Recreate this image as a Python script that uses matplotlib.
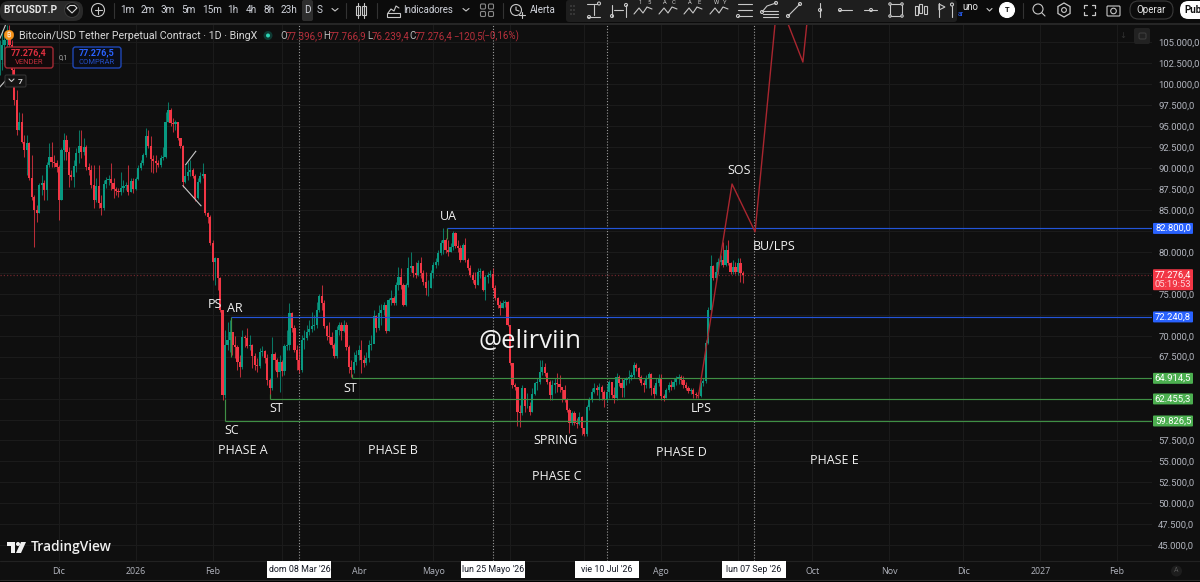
import matplotlib
matplotlib.use("Agg")
import matplotlib.pyplot as plt
from matplotlib.patches import Rectangle, FancyBboxPatch, Circle, Polygon, RegularPolygon

# ---------- data (prices in thousands, days counted from 1 Dec 2025) ----------
first_day = -24
closes = [
102.9,104.7,105.3,105.9,104.7,101.7,98.1,94.5,95.5,93.1,
92.2,93.0,88.8,86.5,85.0,84.6,88.0,88.2,87.4,90.4,
91.3,90.7,90.6,90.1,86.2,92.2,93.4,91.9,89.2,88.9,
90.2,91.8,92.6,91.9,92.5,90.1,89.8,88.0,86.2,87.9,
85.8,85.2,88.1,88.6,88.7,88.2,87.5,87.3,87.1,87.6,
87.9,88.0,87.1,88.5,87.5,88.7,90.0,90.6,91.6,93.8,
92.6,91.1,90.8,90.6,90.4,91.2,91.3,95.5,96.9,95.4,
95.3,95.5,93.6,92.6,88.3,89.1,89.5,89.8,89.1,86.4,
88.3,89.1,89.3,84.6,84.2,81.1,78.8,79.3,76.9,73.1,
62.9,68.9,69.5,70.4,68.9,68.6,66.9,66.3,69.8,69.7,
68.8,68.9,67.6,66.5,66.4,68.1,68.2,67.3,64.7,63.8,
67.8,67.1,65.7,66.9,65.8,68.8,68.9,72.7,70.9,68.3,
67.1,65.9,69.5,69.7,70.4,70.8,71.1,71.3,73.1,74.7,
73.9,71.1,70.0,69.8,68.9,67.6,70.7,71.3,70.6,71.3,
68.7,66.3,65.9,66.9,67.7,68.3,67.1,66.7,67.3,68.9,
69.0,72.3,70.9,72.7,73.1,73.7,70.6,74.3,74.5,73.9,
76.1,77.0,76.1,73.7,76.1,78.1,78.3,77.5,77.2,78.7,
77.5,76.4,75.7,75.7,77.5,78.4,78.8,79.9,81.1,81.4,
80.2,80.0,80.6,82.2,80.7,80.5,79.0,80.8,79.0,78.1,
77.2,76.6,76.1,77.6,77.7,75.4,77.0,77.2,77.4,75.7,
74.5,73.7,73.3,73.9,74.0,71.3,66.7,64.1,63.9,60.9,
60.8,63.8,61.6,61.6,60.9,63.0,64.4,64.5,65.7,66.3,
65.5,64.5,62.9,64.1,64.4,64.2,63.9,63.5,62.3,61.1,
59.6,60.8,59.6,59.5,60.3,59.0,58.3,61.5,62.3,63.3,
63.8,63.5,63.9,63.3,62.3,63.3,64.5,62.9,62.6,65.1,
64.4,63.8,64.7,64.8,65.1,65.3,66.5,66.1,65.1,64.4,
64.1,65.0,65.4,63.8,63.0,64.4,65.0,62.8,62.6,63.5,
64.1,63.9,64.5,64.8,65.1,64.7,64.1,63.8,63.4,63.5,
63.0,62.9,62.8,64.4,64.6,69.1,73.1,78.3,76.9,77.6,
78.8,79.0,78.4,80.2,78.7,77.6,78.2,77.6,78.7,77.5,77.276]
highs = [
105.3,106.5,105.9,107.1,107.1,105.3,102.9,99.3,96.7,96.6,
93.9,93.9,93.1,91.6,86.8,85.6,88.2,89.2,88.6,90.7,
93.0,93.1,91.6,91.0,90.4,92.4,94.2,93.9,92.5,89.8,
91.0,92.4,94.5,94.5,93.6,92.8,90.6,90.4,90.4,88.8,
90.4,86.8,88.6,88.9,89.2,90.6,88.8,87.7,87.6,89.5,
88.6,88.3,90.4,88.8,88.8,88.9,90.4,91.0,91.8,94.8,
94.5,93.8,91.6,91.6,91.0,91.6,92.5,96.7,97.9,97.2,
96.0,95.7,95.5,93.6,92.8,90.4,90.7,91.0,90.0,89.3,
88.8,89.5,90.6,89.3,84.8,84.4,81.4,79.4,79.0,77.0,
73.1,70.7,71.6,71.9,70.3,70.0,68.9,67.7,70.7,70.1,
70.9,70.1,69.0,67.9,67.3,68.5,68.8,68.3,67.8,65.0,
69.9,68.1,67.3,67.7,67.1,69.0,70.7,73.9,72.8,71.3,
68.9,68.5,70.1,70.7,71.3,71.9,72.8,72.5,74.0,75.0,
76.0,74.3,71.3,71.6,70.4,69.1,71.2,71.6,71.6,71.9,
71.6,68.9,67.1,68.1,68.3,68.9,69.5,67.7,68.1,69.5,
70.1,73.1,72.5,73.7,73.8,74.0,73.7,74.5,75.5,74.7,
76.4,78.2,78.1,76.3,76.3,79.4,80.0,78.3,78.8,79.0,
79.4,77.8,77.6,76.6,77.8,78.8,79.3,80.2,81.4,82.8,
81.6,81.4,81.1,82.5,82.4,81.4,80.8,81.1,81.7,79.3,
78.4,77.6,77.6,78.1,78.1,77.8,77.2,77.6,77.8,78.1,
76.0,74.6,74.1,74.3,74.3,74.1,71.3,66.7,64.4,63.9,
61.7,64.1,63.5,63.2,62.1,63.8,64.5,65.0,67.1,67.1,
66.7,65.7,64.7,64.7,65.0,65.5,65.3,63.8,64.1,62.6,
61.4,61.0,61.0,60.2,60.9,60.4,59.0,61.7,62.7,63.8,
64.4,64.1,64.4,64.1,63.5,64.1,64.7,64.4,63.9,65.5,
65.3,64.9,64.9,65.1,65.9,65.7,66.9,66.7,66.3,65.3,
64.7,65.3,65.7,65.5,64.1,64.9,65.4,65.4,63.0,63.8,
64.5,64.7,64.9,65.2,65.4,65.3,65.2,64.5,64.0,63.8,
63.8,63.3,63.3,64.5,65.0,69.5,73.4,79.6,78.4,78.8,
79.3,79.6,81.2,80.8,81.4,78.8,79.0,78.8,79.3,79.3,77.767]
lows = [
101.1,101.7,102.3,104.1,102.9,101.1,97.5,93.9,94.5,93.0,
91.3,89.2,88.6,86.2,80.6,83.6,84.6,86.8,86.2,86.2,
90.1,90.1,90.1,89.5,83.8,86.2,91.0,91.0,87.7,88.6,
87.7,89.5,90.6,91.2,91.6,89.8,89.2,87.6,85.2,85.9,
85.2,84.4,85.0,87.6,88.0,87.4,86.4,86.8,86.5,86.8,
87.1,87.4,86.8,87.1,87.0,87.4,88.6,89.8,90.4,91.3,
92.4,89.5,89.4,89.5,90.1,90.1,91.0,91.2,95.5,95.0,
94.3,94.5,93.3,92.4,87.7,88.2,88.6,89.1,88.8,86.1,
86.3,88.2,88.8,84.4,83.4,80.8,76.6,76.0,75.5,72.8,
62.3,62.6,68.3,68.1,67.7,67.3,65.9,65.1,66.0,68.6,
68.5,68.3,66.1,65.9,65.7,66.1,67.6,66.7,64.1,62.6,
63.5,65.9,65.1,63.3,65.2,65.3,68.3,68.3,70.4,68.1,
65.9,65.5,65.7,68.4,69.5,70.1,70.4,70.7,70.9,72.8,
73.1,70.9,69.5,69.1,68.5,67.3,67.3,70.1,69.5,70.4,
68.3,65.5,65.1,65.6,66.5,67.1,65.6,66.3,66.5,66.9,
68.3,69.5,70.4,70.7,71.3,72.5,70.3,70.6,73.7,73.7,
73.7,75.5,75.6,73.5,73.5,75.8,77.6,77.0,76.9,77.1,
76.9,76.0,74.8,74.7,75.7,76.9,78.1,78.4,79.6,79.7,
79.9,79.5,80.0,80.2,80.5,80.0,78.8,79.0,78.8,77.8,
77.0,76.3,75.7,76.0,76.9,75.3,74.3,76.3,77.0,75.5,
74.3,73.3,72.5,73.3,73.4,71.2,66.5,63.8,63.5,59.2,
59.1,60.5,60.9,61.4,60.5,60.9,62.9,63.5,64.2,65.3,
65.2,64.2,62.3,62.3,63.2,63.3,63.3,62.1,62.1,60.9,
58.4,59.3,59.3,59.0,59.3,58.2,58.0,58.0,61.1,62.1,
63.2,62.9,62.3,62.3,61.5,62.1,62.6,62.6,62.0,62.3,
64.0,62.7,62.7,64.1,64.4,64.7,64.9,65.8,64.7,64.1,
63.3,63.8,63.8,62.9,62.6,62.9,64.0,62.3,62.2,62.6,
63.3,63.5,63.6,64.1,64.2,64.2,63.8,63.5,63.2,63.0,
62.6,62.6,62.6,62.7,64.0,64.4,69.0,72.9,76.6,76.6,
77.4,78.4,78.2,78.3,78.4,77.4,77.4,77.4,77.2,76.4,76.239]

level_prices = [82800.0, 72240.8, 64914.5, 62455.3, 59826.5]
level_starts = [156.7, 69.3, 118.2, 85.2, 67.0]
level_labels = ["82.800,0", "72.240,8", "64.914,5", "62.455,3", "59.826,5"]
level_kinds = ["blue", "blue", "green", "green", "green"]
last_price = 77276.4

path_days = [258, 271.6, 280.9, 290, 300.2, 304]
path_prices = [62700, 88100, 82400, 110400, 102650, 113500]

month_days = [0, 31, 62, 90, 121, 151, 182, 212, 243, 274, 304, 335, 365, 396, 427]
month_labels = ["Dic", "2026", "Feb", "", "Abr", "Mayo", "", "", "Ago", "", "Oct", "Nov", "Dic", "2027", "Feb"]
cursor_days = [97, 175, 221, 280.5]
cursor_labels = ["dom 08 Mar '26", "lun 25 Mayo '26", "vie 10 Jul '26", "lun 07 Sep '26"]
price_ticks = list(range(45000, 107500, 2500))
hidden_ticks = [60000, 62500, 65000, 72500, 77500, 82500]

# ---------- colours ----------
BG = "#0f0f0f"; GRID = "#1b1b1b"; UP = "#089981"; DOWN = "#f23645"
BLUE = "#2962ff"; GREEN = "#4caf50"; LINEGREEN = "#3f8f45"; AXT = "#b2b5be"

plt.rcParams["font.family"] = ["Open Sans", "DejaVu Sans"]
fig = plt.figure(figsize=(12, 5.82), dpi=100, facecolor=BG)
ax = fig.add_axes([0, (582 - 561) / 582, 1152 / 1200, (561 - 24) / 582], facecolor=BG)
ax.set_xlim(-23.81, 441.08)
ax.set_ylim(43120, 107190)
for s in ax.spines.values():
    s.set_visible(False)
ax.set_axisbelow(True)
ax.grid(True, color=GRID, lw=0.8)
ax.yaxis.tick_right()
ax.set_yticks(price_ticks)
ax.set_yticklabels(["" if p in hidden_ticks else f"{p:,.1f}".replace(",", "X").replace(".", ",").replace("X", ".") for p in price_ticks])
ax.tick_params(axis="y", length=0, pad=4.5, labelsize=6.8, labelcolor=AXT)
for t in ax.get_yticklabels():
    t.set_fontfamily("Roboto")
ax.set_xticks(month_days)
ax.set_xticklabels(month_labels)
ax.tick_params(axis="x", length=0, pad=4.5, labelsize=6.4, labelcolor=AXT)

# cursors
for d in cursor_days:
    ax.axvline(d, color="#9a9a9a", lw=0.8, ls=(0, (1, 1.6)), zorder=1.5)

# candles
days = list(range(first_day, first_day + len(closes)))
opens = [closes[0]] + closes[:-1]
for i, d in enumerate(days):
    o, c = opens[i] * 1000, closes[i] * 1000
    col = UP if c >= o else DOWN
    ax.vlines(d, lows[i] * 1000, highs[i] * 1000, color=col, lw=0.75, alpha=0.75, zorder=3)
    ax.bar(d, abs(c - o) or 40, bottom=min(o, c), width=0.88, color=col, lw=0, zorder=3.2)

# levels
ax.axhline(last_price, color="#6e262c", lw=0.9, ls=(0, (1, 1.6)), zorder=2)
for p, s, k in zip(level_prices, level_starts, level_kinds):
    ax.hlines(p, s, 441.08, color="#2354d8" if k == "blue" else LINEGREEN, lw=0.85, zorder=3.5)
for d, p0, p1 in [(69.3, 72240.8, 67400), (67.0, 59826.5, 62400), (85.2, 62455.3, 63000), (118.2, 64914.5, 65400), (156.7, 82800, 81500)]:
    ax.vlines(d, p0, p1, color=LINEGREEN, lw=0.85, zorder=3.5)

# projected path
ax.plot(path_days, path_prices, color="#a9262f", lw=1.0, zorder=4)

# small drawn lines
for xs, ys in [([51.1, 55.2], [90400, 92000]), ([50, 57.3], [87900, 85500]),
               ([-23.8, -21.4], [99700, 100500]), ([-23.8, -21.4], [105500, 107200])]:
    ax.plot(xs, ys, color="#c9c9c9", lw=0.8, zorder=4)

# ---------- overlay in pixel space for the interface ----------
ui = fig.add_axes([0, 0, 1, 1], facecolor="none")
ui.set_xlim(0, 1200); ui.set_ylim(582, 0); ui.axis("off")

def T(x, y, s, size=7, color="#d1d4dc", ha="center", weight="normal", family=None, z=8):
    return ui.text(x, y, s, fontsize=size, color=color, ha=ha, va="center", weight=weight, family=family, zorder=z)

def L(xs, ys, c="#c8c8c8", lw=0.8, z=8):
    ui.plot(xs, ys, color=c, lw=lw, zorder=z, solid_capstyle="round")

def R(x, y, w, h, fc="none", ec="none", lw=0.8, z=7, r=0):
    if r:
        ui.add_patch(FancyBboxPatch((x + r, y + r), w - 2 * r, h - 2 * r, boxstyle=f"round,pad={r}", fc=fc, ec=ec, lw=lw, zorder=z))
    else:
        ui.add_patch(Rectangle((x, y), w, h, fc=fc, ec=ec, lw=lw, zorder=z))

def C(x, y, r, fc="none", ec="#c8c8c8", lw=0.8, z=8):
    ui.add_patch(Circle((x, y), r, fc=fc, ec=ec, lw=lw, zorder=z))

def price_y(p):
    return 582 - ax.transData.transform((0, p))[1]

# price-axis tags
for p, lab, k in zip(level_prices, level_labels, level_kinds):
    py = price_y(p)
    R(1153, py - 5.5, 40, 11, fc=BLUE if k == "blue" else GREEN, z=6, r=1)
    T(1173, py, lab, 6.8, "white", family="Roboto", z=7)
py = price_y(last_price)
R(1153, py - 5.5, 40, 21, fc=DOWN, z=6, r=1)
T(1173, py, "77.276,4", 6.8, "white", family="Roboto", z=7)
T(1173, py + 9.5, "05:19:53", 6.8, "#ffd5d9", family="Roboto", z=7)

# top bar
R(0, 0, 1200, 23, fc="#0b0b0b", z=6)
R(0, 22.5, 1200, 2, fc="#262626", z=6)
R(0, 1, 83, 20, fc="#2a2a2a", r=9)
T(30, 10, "BTCUSDT.P", 7.2, "#e6e6e6", weight="bold", family="Roboto")
C(72, 10, 7.5, fc="#111111", ec="#3a3a3a")
ui.add_patch(Polygon([[67, 8], [70, 5.5], [74.5, 5.5], [77, 8], [72, 13]], fc="none", ec="#d8d8d8", lw=0.8, zorder=9))
C(98, 10, 6.5)
L([94.5, 101.5], [10, 10]); L([98, 98], [6.5, 13.5])
L([114, 114], [3, 18], "#333333")
for x, s in zip([127, 148, 168, 188.5, 212, 233, 251, 269, 289, 307, 320],
                ["1m", "2m", "3m", "5m", "15m", "1h", "4h", "8h", "23h", "D", "S"]):
    if s == "D":
        R(302, 0, 11, 21, fc="#2e2e2e", r=2)
    T(x, 10, s, 7.2, "#d1d4dc", family="Roboto", z=9)
L([332, 335, 338], [8.5, 11, 8.5])
L([346, 346], [3, 18], "#333333")
for x in (358, 364):
    R(x - 2, 6, 4, 9, ec="#c8c8c8", z=8); L([x, x], [3, 18])
L([377, 377], [3, 18], "#333333")
L([388, 391, 394, 396, 399], [13, 9, 11, 6, 8]); R(387, 13, 13, 4, ec="#c8c8c8", z=8)
T(428.5, 10, "Indicadores", 6.9, "#d1d4dc", family="Roboto")
L([463, 466, 469], [8.5, 11, 8.5])
for x in (483, 491):
    for y in (6.5, 14):
        R(x - 2.5, y - 2.5, 5, 5, ec="#888888", z=8, r=1.2)
L([503, 503], [3, 18], "#333333")
C(516, 10, 5.5); L([516, 516, 519], [7, 10, 11])
L([519, 525], [15, 15]); L([522, 522], [12, 18])
T(543, 10, "Alerta", 7, "#d1d4dc", family="Roboto")

# drawing panel
R(566, 0, 391, 22, fc="#1e1e1e", z=6.5, r=3)
for x in (571, 574):
    for y in (6, 10, 14):
        C(x, y, 0.5, fc="#555555", ec="#555555", lw=0.3)
L([594, 594], [5, 15]); L([587, 600], [17, 17]); L([587, 597], [3.5, 3.5]); C(599, 3.5, 1.5); C(589, 17, 1.5)
L([612, 612], [5, 17]); L([614, 623], [10, 10]); L([626, 626], [5, 17]); C(612, 16, 1.5); C(626, 5, 1.5)
for x, a, b in zip([643, 668, 693, 719], "1AAW", "5CEY"):
    L([x - 9, x - 4, x, x + 4, x + 9], [14, 8, 13, 7, 9])
    T(x - 3, 3, a, 4.2, "#c8c8c8", family="Roboto"); T(x + 6, 3, b, 4.2, "#c8c8c8", family="Roboto")
for y in (4, 10, 16):
    L([738, 752], [y, y])
C(738, 16, 1.5)
L([762, 767, 776], [12, 6, 3]); C(762, 12, 1.5); C(776, 3, 1.5)
for y in (11, 14, 17):
    L([763, 778], [y, y])
L([788, 800], [16, 4]); C(788, 16, 1.5); C(800, 4, 1.5)
L([820, 820], [3, 17]); C(820, 10, 1.5)
L([839, 852], [10, 10]); C(840, 10, 1.5)
L([864, 877], [10, 10]); C(871, 10, 1.5)
R(890, 4, 12, 12, ec="#c8c8c8", z=8)
for x, y in [(890, 4), (902, 4), (890, 16), (902, 16)]:
    C(x, y, 1.2, fc="#1e1e1e")
for x, y0, y1 in [(916, 6, 15), (920, 4, 13), (925, 6, 14)]:
    R(x - 1.5, y0, 3, y1 - y0, ec="#c8c8c8", z=8)
L([939, 939], [3, 17]); ui.add_patch(Polygon([[939, 4], [945, 7], [939, 10]], fc="none", ec="#c8c8c8", lw=0.8, zorder=8))
L([952, 952], [6, 17]); C(952, 4.5, 1.5)

# right of top bar
T(970, 7, "uno", 7, "#e6e6e6", family="Roboto")
T(961, 15, "ar", 5, BLUE, family="Roboto")
L([987, 989.5, 992], [8.5, 11, 8.5])
C(1007, 10, 7.5, fc="white", ec="white")
T(1007, 10, "T", 5.5, "#111111", weight="bold", family="Roboto", z=9)
L([1023, 1023], [3, 18], "#333333")
C(1038, 9, 5); L([1042, 1045], [13, 16])
ui.add_patch(RegularPolygon((1064, 10), 6, radius=7, fc="none", ec="#c8c8c8", lw=0.9, zorder=8)); C(1064, 10, 2.4)
for (x0, y0, dx, dy) in [(1084, 5, 1, 1), (1095, 5, -1, 1), (1084, 15, 1, -1), (1095, 15, -1, -1)]:
    L([x0, x0, x0 + 3 * dx], [y0 + 3 * dy, y0, y0], lw=0.9)
R(1107, 6, 13, 10, ec="#c8c8c8", z=8, r=1); C(1113.5, 11, 2.8)
R(1130, 1, 43, 18, ec="#3a3a3a", r=8.5)
T(1151.5, 10, "Operar", 7, "#e6e6e6", family="Roboto")
R(1180, 1, 30, 18, fc="white", r=8.5)
T(1184, 10, "Pub", 7, "#111111", ha="left", weight="bold", family="Roboto", z=9)

# legend row
C(9, 35, 4.8, fc="#f7931a", ec="#f7931a", lw=0.3)
T(9, 35, "₿", 5, "white", family=["Inter", "Noto Sans", "Open Sans", "Lato", "Roboto", "Liberation Sans", "DejaVu Sans"], z=9)
T(19, 36, "Bitcoin/USD Tether Perpetual Contract · 1D · BingX", 7.65, "#d8d8d8", ha="left", family="Roboto")
C(268, 35.5, 4.5, fc="#0e3a33", ec="none"); C(268, 35.5, 2, fc="#2dd4b4", ec="none", z=9)
LRED = "#b8303c"
for x, s in [(280, "O"), (323, "H"), (367, "L"), (409, "C")]:
    T(x, 36, s, 7, "#bcbcbc", ha="left", family="Roboto")
for x, s in [(286, "77.396,9"), (329, "77.766,9"), (372, "76.239,4"), (415, "77.276,4"), (453, "−120,5"), (481, "(−0,16%)")]:
    T(x, 36, s, 7, LRED, ha="left", family="Roboto")

# order boxes
R(5, 47, 48, 21, fc="#120a0b", ec="#a42a34", lw=1, r=2.5)
T(29, 53, "77.276,4", 6.5, "#e0303f", weight="bold", family="Roboto")
T(29, 62, "VENDER", 5.5, "#c32f3b", family="Roboto")
T(63, 57.5, "0,1", 5.2, "#a8a8a8", family="Roboto")
R(73, 47, 48, 21, fc="#0a0d16", ec="#1f47b5", lw=1, r=2.5)
T(97, 53, "77.276,5", 6.5, "#2962ff", weight="bold", family="Roboto")
T(97, 62, "COMPRAR", 5.5, "#2450c8", family="Roboto")
R(5, 75, 21, 12, fc="#141414", ec="#333333", r=1.5)
L([9, 11.5, 14], [79, 81.5, 79]); T(20, 81, "7", 6, "#d0d0d0", weight="bold", family="Roboto", z=9)

# top-right chart buttons
T(1123, 36, "↓", 6, "#333333", family="DejaVu Sans")
R(1134, 28, 16, 16, fc="#222222", r=2)
R(1139, 33, 7, 6, ec="#3d3d3d", z=8, r=1.5)

# annotations
for x, y, s in [(448, 216, "UA"), (739, 171, "SOS"), (774, 246, "BU/LPS"), (215, 304, "PS"), (235, 308, "AR"),
                (276, 408, "ST"), (350, 388, "ST"), (232, 431, "SC"), (243, 450, "PHASE A"), (393, 451, "PHASE B"),
                (557, 476, "PHASE C"), (681, 452, "PHASE D"), (834, 461, "PHASE E"), (555, 441, "SPRING"), (701, 409, "LPS")]:
    T(x, y, s, 9.0, "#f2f2f2", family="Open Sans")
T(530, 342, "@elirviin", 18.5, "#f2f2f2", family="Open Sans")

# TradingView mark
ui.add_patch(Polygon([[7, 542], [15, 542], [15, 553], [11, 553], [11, 546], [7, 546]], fc="#f0f0f0", ec="none", zorder=8))
C(18, 544, 2, fc="#f0f0f0", ec="none")
ui.add_patch(Polygon([[21, 542], [26, 542], [21, 553], [16, 553]], fc="#f0f0f0", ec="none", zorder=8))
T(31, 547.5, "TradingView", 9.9, "#f0f0f0", ha="left", weight="semibold", family="Open Sans")

# time axis
L([0, 1200], [561.3, 561.3], "#222222", 0.8, z=5)
L([0, 1200], [580, 580], "#2b2b2b", 0.8, z=5)
R(0, 580.5, 1200, 2, fc="#000000", z=5)
for d, s in zip(cursor_days, cursor_labels):
    px = ax.transData.transform((d, 50000))[0]
    R(px - 32, 561, 64, 17, fc="white", z=7)
    T(px, 570, s, 6.4, "#131722", family="Roboto", z=8)
C(1176.5, 571, 5.5, fc="#1d1d1d", ec="none")
T(1176.5, 571, "A", 5, "#555555", family="Roboto", z=9)

fig.savefig("out.png", dpi=100, facecolor=BG)
